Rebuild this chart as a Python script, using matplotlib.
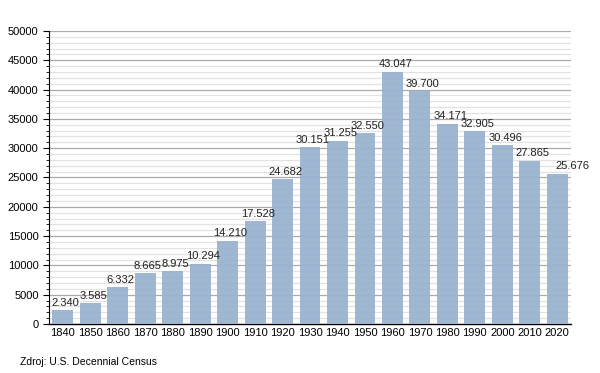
import matplotlib
matplotlib.use("Agg")
import matplotlib.pyplot as plt
from matplotlib.ticker import MultipleLocator

plt.rcParams["font.family"] = ["Liberation Sans", "DejaVu Sans"]

years = [1840, 1850, 1860, 1870, 1880, 1890, 1900, 1910, 1920, 1930,
         1940, 1950, 1960, 1970, 1980, 1990, 2000, 2010, 2020]
population = [2340, 3585, 6332, 8665, 8975, 10294, 14210, 17528, 24682, 30151,
              31255, 32550, 43047, 39700, 34171, 32905, 30496, 27865, 25676]

BAR = "#9ab3cf"

fig = plt.figure(figsize=(6, 3.73), dpi=100)
ax = fig.add_axes([0.0817, 0.1314, 0.87, 0.7855])

x = list(range(len(years)))
ax.bar(x, population, width=0.76, color=BAR, alpha=0.95, zorder=3)

for i, v in zip(x, population):
    label = f"{v:,}".replace(",", ".")
    dx = 0.55 if i == len(years) - 1 else 0.1
    ax.text(i + dx, v + 400, label, ha="center", va="bottom", fontsize=8, color="#222222", zorder=4)

ax.set_xlim(-0.5, len(years) - 0.5)
ax.set_ylim(0, 50000)
ax.set_xticks(x)
ax.set_xticklabels([str(y) for y in years], fontsize=8)
ax.yaxis.set_major_locator(MultipleLocator(5000))
ax.yaxis.set_minor_locator(MultipleLocator(1000))
ax.tick_params(axis="y", which="major", length=4, labelsize=8)
ax.tick_params(axis="y", which="minor", length=2)
ax.tick_params(axis="x", length=0, pad=3)

ax.grid(axis="y", which="major", color="#aaaaaa", lw=0.9, zorder=0)
ax.grid(axis="y", which="minor", color="#e2e2e2", lw=0.9, zorder=0)
for s in ("top", "right"):
    ax.spines[s].set_visible(False)
ax.spines["left"].set_linewidth(0.8)
ax.spines["bottom"].set_linewidth(1.0)

fig.text(20 / 600, 1 - 362 / 373, "Zdroj: U.S. Decennial Census", fontsize=7.5, va="center")

fig.savefig("out.png", dpi=100)
